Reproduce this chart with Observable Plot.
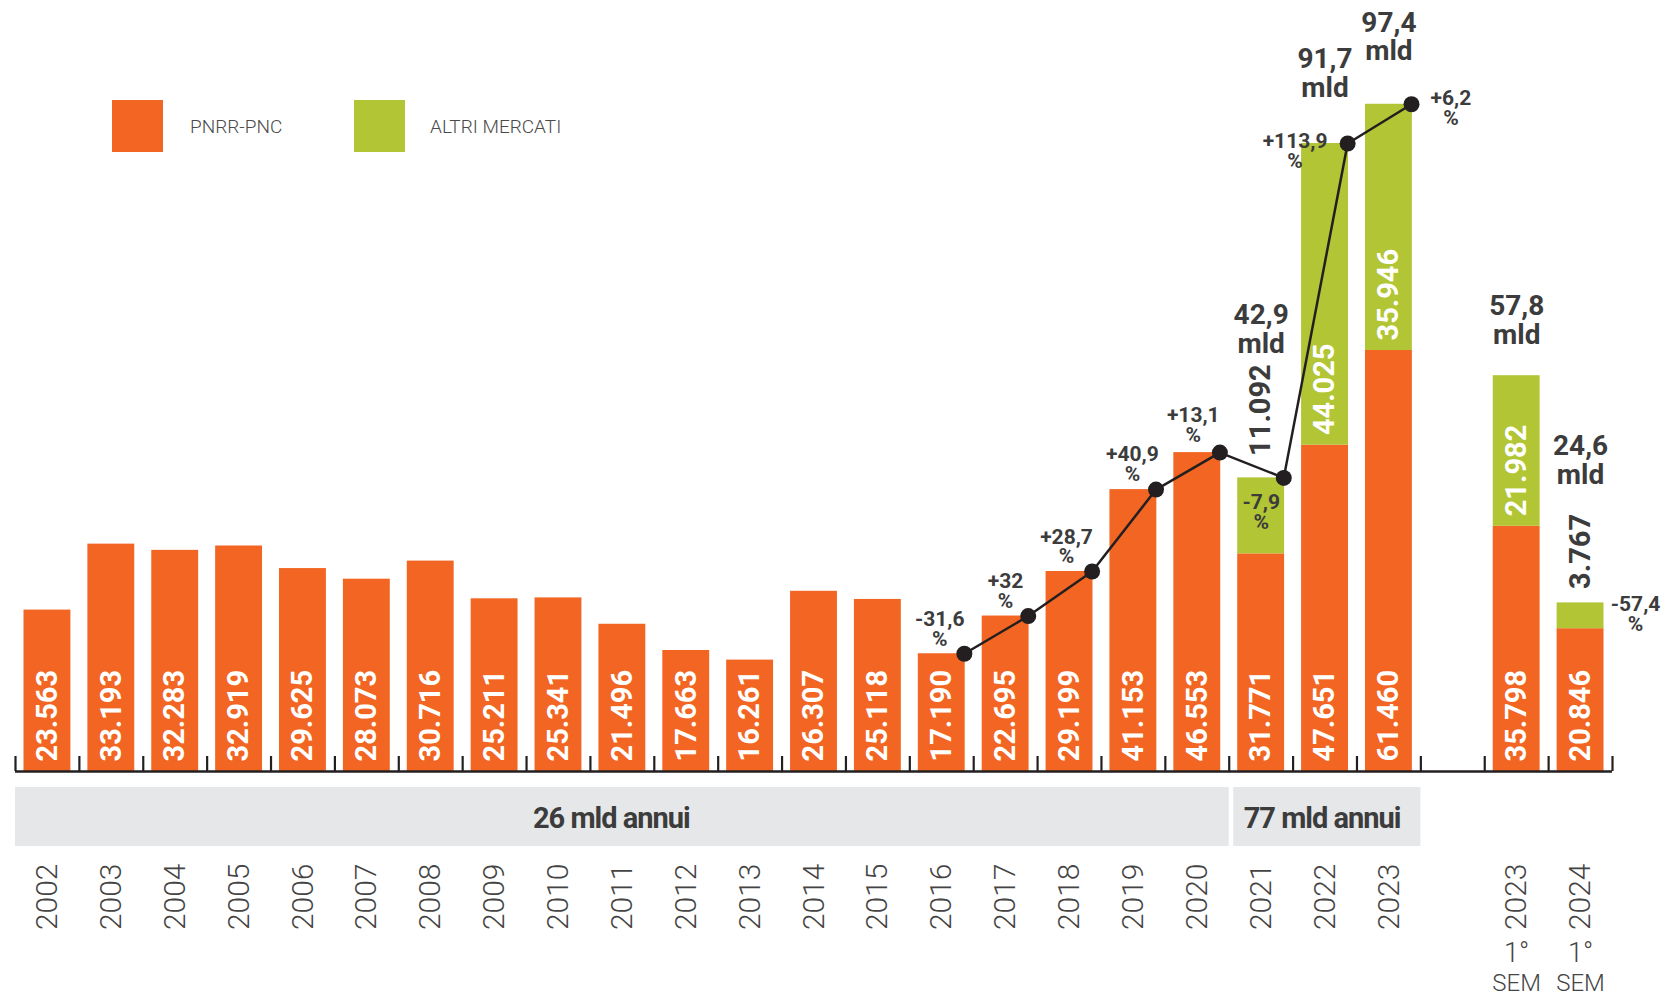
<!DOCTYPE html>
<html>
<head>
<meta charset="utf-8">
<script src="https://cdn.jsdelivr.net/npm/d3@7"></script>
<script src="https://cdn.jsdelivr.net/npm/@observablehq/plot@0.6"></script>
<style>
  body { margin: 0; background: #fff; }
  #wrap { position: relative; width: 1674px; height: 996px; font-family: Roboto, "Noto Sans", sans-serif; overflow: hidden; }
  #chart svg { display: block; }
  #legend { position: absolute; left: 0; top: 0; }
  .sw { position: absolute; width: 51px; height: 52px; }
  .lt { position: absolute; font-size: 19px; color: #4a4a4a; font-weight: 300; line-height: 1; white-space: nowrap; transform: translateY(-50%); }
</style>
</head>
<body>
<div id="wrap">
  <div id="chart"></div>
  <div id="legend"></div>
</div>
<script>
// ---------------- DATA ----------------
const keys = ["2002","2003","2004","2005","2006","2007","2008","2009","2010","2011","2012","2013",
              "2014","2015","2016","2017","2018","2019","2020","2021","2022","2023","gap","2023 S1","2024 S1"];
const yearText = ["2002","2003","2004","2005","2006","2007","2008","2009","2010","2011","2012","2013",
                  "2014","2015","2016","2017","2018","2019","2020","2021","2022","2023","","2023","2024"];
const noteTop = ["","","","","","","","","","","","","","","","","","","","","","","","1°","1°"];
const noteBottom = ["","","","","","","","","","","","","","","","","","","","","","","","SEM","SEM"];
const series = ["PNRR-PNC", "ALTRI MERCATI"];
const pnrr = [23563, 33193, 32283, 32919, 29625, 28073, 30716, 25211, 25341, 21496, 17663, 16261,
              26307, 25118, 17190, 22695, 29199, 41153, 46553, 31771, 47651, 61460, null, 35798, 20846];
const altri = [0, 0, 0, 0, 0, 0, 0, 0, 0, 0, 0, 0,
               0, 0, 0, 0, 0, 0, 0, 11092, 44025, 35946, null, 21982, 3767];
const pctText = [null, null, null, null, null, null, null, null, null, null, null, null,
                 null, null, "-31,6", "+32", "+28,7", "+40,9", "+13,1", "-7,9", "+113,9", "+6,2", null, null, "-57,4"];
const totalLabelKeys = ["2021", "2022", "2023", "2023 S1", "2024 S1"];
const lineKeys = ["2016", "2017", "2018", "2019", "2020", "2021", "2022", "2023"];
const bandGroups = [
  {label: "26 mld annui", from: "2002", to: "2020"},
  {label: "77 mld annui", from: "2021", to: "2023"}
];

// ---------------- STYLE ----------------
const colors = ["#f26522", "#b2c534"];
const DARK = "#3c3c3c";
const INK = "#231f20";
const W = 1674, H_MAIN = 775, MT = 10, MB = 4, ML = 15, MR = 62;
const PX_PER_UNIT = 0.00685;
const yMax = (H_MAIN - MT - MB) / PX_PER_UNIT;
const TICK_LEN = 15;
const DOT_DX = 22.6;
// label offsets (px): [dx, dy of "%" baseline]
const pctOffsets = {
  "2016": [-2, -8], "2017": [0, -8], "2018": [-3, -8], "2019": [-1, -9],
  "2020": [-4, -11], "2021": [0, 51], "2022": [-30, 24], "2023": [62, 21],
  "2024 S1": [55, 28]
};
const totalDy = {"2021": -125, "2022": -47, "2023": -44, "2023 S1": -32, "2024 S1": -119};
const outsideDy = {"2021": -22, "2024 S1": -14};

// ---------------- DERIVED ----------------
const it = d3.formatLocale({decimal: ",", thousands: ".", grouping: [3], currency: ["€", ""]});
const fmt = it.format(",d");
const idx = k => keys.indexOf(k);
const rows = [];
keys.forEach((k, i) => {
  if (pnrr[i] != null) rows.push({k, i, series: series[0], y1: 0, y2: pnrr[i], value: pnrr[i]});
  if (altri[i]) rows.push({k, i, series: series[1], y1: pnrr[i], y2: pnrr[i] + altri[i], value: altri[i]});
});
const total = i => (pnrr[i] || 0) + (altri[i] || 0);
const inside = rows.filter(d => d.value >= 15000);
const outside = rows.filter(d => d.value < 15000);
const lineData = lineKeys.map(k => ({i: idx(k), total: total(idx(k))}));
const pctData = keys.map((k, i) => ({k, i, text: pctText[i], total: total(i)})).filter(d => d.text);
const totals = totalLabelKeys.map(k => ({k, i: idx(k), total: total(idx(k)),
  text: (Math.round(total(idx(k)) / 100) / 10).toFixed(1).replace(".", ",") + "\nmld"}));

const frameH = H_MAIN - MT - MB;

const mainMarks = [
  Plot.rectY(rows, {x1: d => d.i, x2: d => d.i + 1, y1: "y1", y2: "y2", fill: "series",
    insetLeft: 8.5, insetRight: 8.5}),
  Plot.ruleY([0], {stroke: INK, strokeWidth: 2.5}),
  Plot.ruleX(d3.range(0, keys.length + 1), {x: d => d, stroke: INK, strokeWidth: 2.2, insetTop: frameH - TICK_LEN}),
  Plot.text(inside, {x: d => d.i + 0.5, y: "y1", text: d => fmt(d.value), rotate: -90, textAnchor: "start",
    lineAnchor: "middle", dy: -10, fill: "#fff", fontSize: 29, fontWeight: 700}),
  ...outside.map(d => Plot.text([d], {x: d => d.i + 0.5, y: "y2", text: d => fmt(d.value), rotate: -90,
    textAnchor: "start", lineAnchor: "middle", dy: outsideDy[d.k], fill: DARK, fontSize: 29, fontWeight: 700})),
  Plot.line(lineData, {x: d => d.i + 0.5, y: "total", dx: DOT_DX, stroke: INK, strokeWidth: 2.5}),
  Plot.dot(lineData, {x: d => d.i + 0.5, y: "total", dx: DOT_DX, r: 8, fill: INK}),
  ...pctData.map(d => {
    const o = pctOffsets[d.k];
    return Plot.text([d], {x: d => d.i + 0.5, y: "total", text: d => d.text + "\n%", dx: o[0], dy: o[1],
      lineAnchor: "bottom", lineHeight: 0.95, fill: DARK, fontSize: 21, fontWeight: 700});
  }),
  ...totals.map(d => Plot.text([d], {x: d => d.i + 0.5, y: "total", text: "text", dy: totalDy[d.k],
    lineAnchor: "bottom", lineHeight: 1.02, fill: DARK, fontSize: 28, fontWeight: 700}))
];

const main = Plot.plot({
  width: W, height: H_MAIN,
  marginTop: MT, marginBottom: MB, marginLeft: ML, marginRight: MR,
  x: {type: "linear", domain: [0, keys.length], axis: null},
  y: {domain: [0, yMax], axis: null},
  color: {domain: series, range: colors},
  style: {fontFamily: "Roboto, 'Noto Sans', sans-serif", overflow: "visible", background: "transparent"},
  marks: mainMarks
});

const bandOffsets = [{inset: 0, dx: -11}, {inset: 4.5, dx: -3}];
const H_LOW = 996 - H_MAIN;
const lower = Plot.plot({
  width: W, height: H_LOW,
  marginTop: 12, marginBottom: 150, marginLeft: ML, marginRight: MR,
  x: {type: "linear", domain: [0, keys.length], axis: null},
  style: {fontFamily: "Roboto, 'Noto Sans', sans-serif", overflow: "visible", background: "transparent"},
  marks: [
    ...bandGroups.map((g, j) => Plot.rect([g], {x1: d => idx(d.from), x2: d => idx(d.to) + 1,
      fill: "#e6e7e8", insetLeft: bandOffsets[j].inset})),
    ...bandGroups.map((g, j) => Plot.text([g], {x: d => (idx(d.from) + idx(d.to) + 1) / 2, text: "label",
      frameAnchor: "middle", dx: bandOffsets[j].dx, dy: 2, fill: DARK, fontSize: 29, fontWeight: 700})),
    Plot.text(keys.map((k, i) => i), {x: i => i + 0.5, text: i => yearText[i], frameAnchor: "bottom", dy: 17,
      rotate: -90, textAnchor: "end", lineAnchor: "middle", fill: "#444", fontSize: 30, fontWeight: 300}),
    Plot.text(keys.map((k, i) => i), {x: i => i + 0.5, text: i => noteTop[i], frameAnchor: "bottom", dy: 107,
      lineAnchor: "middle", fill: "#444", fontSize: 27, fontWeight: 300}),
    Plot.text(keys.map((k, i) => i), {x: i => i + 0.5, text: i => noteBottom[i], frameAnchor: "bottom", dy: 137,
      lineAnchor: "middle", fill: "#444", fontSize: 24, fontWeight: 300})
  ]
});
lower.querySelectorAll("text").forEach(t => {
  if (t.textContent.includes("mld annui")) t.setAttribute("letter-spacing", "-1");
});

document.getElementById("chart").append(main, lower);

// Legend (HTML)
const legend = document.getElementById("legend");
const legendPos = [{sx: 112, tx: 190}, {sx: 354, tx: 430}];
series.forEach((s, j) => {
  const sw = document.createElement("div");
  sw.className = "sw";
  sw.style.left = legendPos[j].sx + "px";
  sw.style.top = "100px";
  sw.style.background = colors[j];
  const lt = document.createElement("div");
  lt.className = "lt";
  lt.style.left = legendPos[j].tx + "px";
  lt.style.top = "126px";
  lt.textContent = s;
  legend.append(sw, lt);
});
</script>
</body>
</html>
